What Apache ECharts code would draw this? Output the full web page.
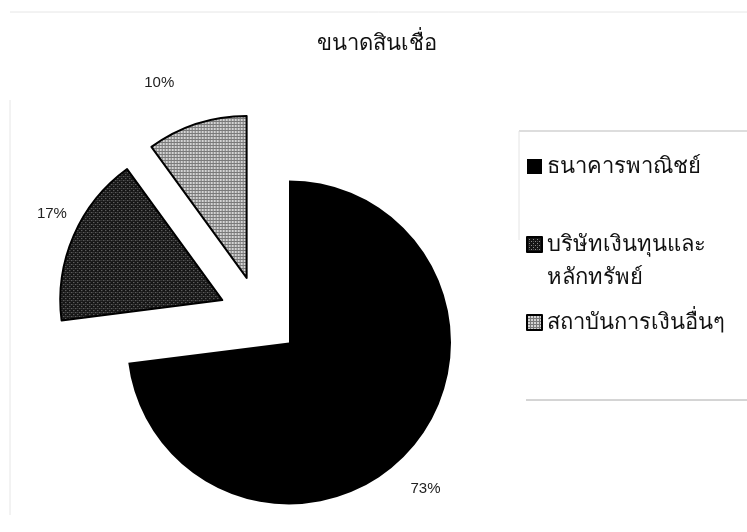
<!DOCTYPE html>
<html>
<head>
<meta charset="utf-8">
<script src="https://cdn.jsdelivr.net/npm/echarts@6/dist/echarts.min.js"></script>
<style>html,body{margin:0;padding:0;background:#fff}#c{width:747px;height:532px}</style>
</head>
<body>
<div id="c"></div>
<script>
var titleText = 'ขนาดสินเชื่อ';
var categories = ['ธนาคารพาณิชย์', 'บริษัทเงินทุนและหลักทรัพย์', 'สถาบันการเงินอื่นๆ'];
var legendLabels = ['ธนาคารพาณิชย์', '\nบริษัทเงินทุนและ\nหลักทรัพย์', 'สถาบันการเงินอื่นๆ'];
var values = [73, 17, 10];

// label nudges (style only)
var labelNudge = [[-20, 13], [20, -6], [-20, -3]];

function makePattern(kind) {
  var cv = document.createElement('canvas');
  var ctx = cv.getContext('2d');
  if (kind === 'dark') {
    cv.width = 4; cv.height = 4;
    ctx.fillStyle = '#151515'; ctx.fillRect(0, 0, 4, 4);
    ctx.fillStyle = '#8a8a8a';
    ctx.fillRect(0, 0, 1, 1); ctx.fillRect(2, 2, 1, 1);
    ctx.fillStyle = '#4a4a4a';
    ctx.fillRect(2, 0, 1, 1);
  } else {
    cv.width = 3; cv.height = 3;
    ctx.fillStyle = '#d4d4d4'; ctx.fillRect(0, 0, 3, 3);
    ctx.fillStyle = '#7a7a7a';
    ctx.fillRect(0, 0, 3, 1); ctx.fillRect(0, 0, 1, 3);
  }
  return { image: cv, repeat: 'repeat' };
}

var fills = ['#000000', makePattern('dark'), makePattern('light')];
var borders = [0, 2, 2];

var chart = echarts.init(document.getElementById('c'), null, { renderer: 'canvas' });
var data = categories.map(function (n, i) {
  return {
    name: n, value: values[i], selected: true,
    itemStyle: { color: fills[i], borderColor: '#000', borderWidth: borders[i] }
  };
});

chart.setOption({
  backgroundColor: '#fff',
  animation: false,
  title: {
    text: titleText, left: 372, top: 28, textAlign: 'center',
    textStyle: { fontSize: 22, fontWeight: 'normal', color: '#111', fontFamily: 'Noto Sans, DejaVu Sans, sans-serif' }
  },
  legend: {
    orient: 'vertical', left: 521, top: 145,
    icon: 'rect', itemWidth: 15, itemHeight: 15, itemGap: 12,
    formatter: function (n) { return legendLabels[categories.indexOf(n)]; },
    textStyle: { fontSize: 22, color: '#111', lineHeight: 33, fontFamily: 'Noto Sans, DejaVu Sans, sans-serif' },
    data: categories,
    selectedMode: false
  },
  graphic: [
    { type: 'line', shape: { x1: 519, y1: 131, x2: 747, y2: 131 }, style: { stroke: '#bbb', lineWidth: 1 } },
    { type: 'line', shape: { x1: 519, y1: 131, x2: 519, y2: 240 }, style: { stroke: '#e4e4e4', lineWidth: 1 } },
    { type: 'line', shape: { x1: 526, y1: 400, x2: 747, y2: 400 }, style: { stroke: '#aaa', lineWidth: 1 } },
    { type: 'line', shape: { x1: 10, y1: 12, x2: 747, y2: 12 }, style: { stroke: '#e6e6e6', lineWidth: 1 } },
    { type: 'line', shape: { x1: 10, y1: 100, x2: 10, y2: 515 }, style: { stroke: '#e6e6e6', lineWidth: 1 } }
  ],
  series: [{
    type: 'pie',
    center: [259, 316],
    radius: 162,
    startAngle: 90,
    clockwise: true,
    selectedMode: 'multiple',
    selectedOffset: 40,
    avoidLabelOverlap: false,
    emphasis: { disabled: true },
    label: {
      show: true, position: 'outside',
      formatter: '{d}%',
      fontSize: 15, color: '#222', fontFamily: 'Liberation Sans, Arial, sans-serif'
    },
    labelLine: { show: false, length: 40, length2: 0 },
    labelLayout: function (p) {
      var n = labelNudge[p.dataIndex];
      return { align: 'center', dx: n[0], dy: n[1] };
    },
    data: data
  }]
});
</script>
</body>
</html>
